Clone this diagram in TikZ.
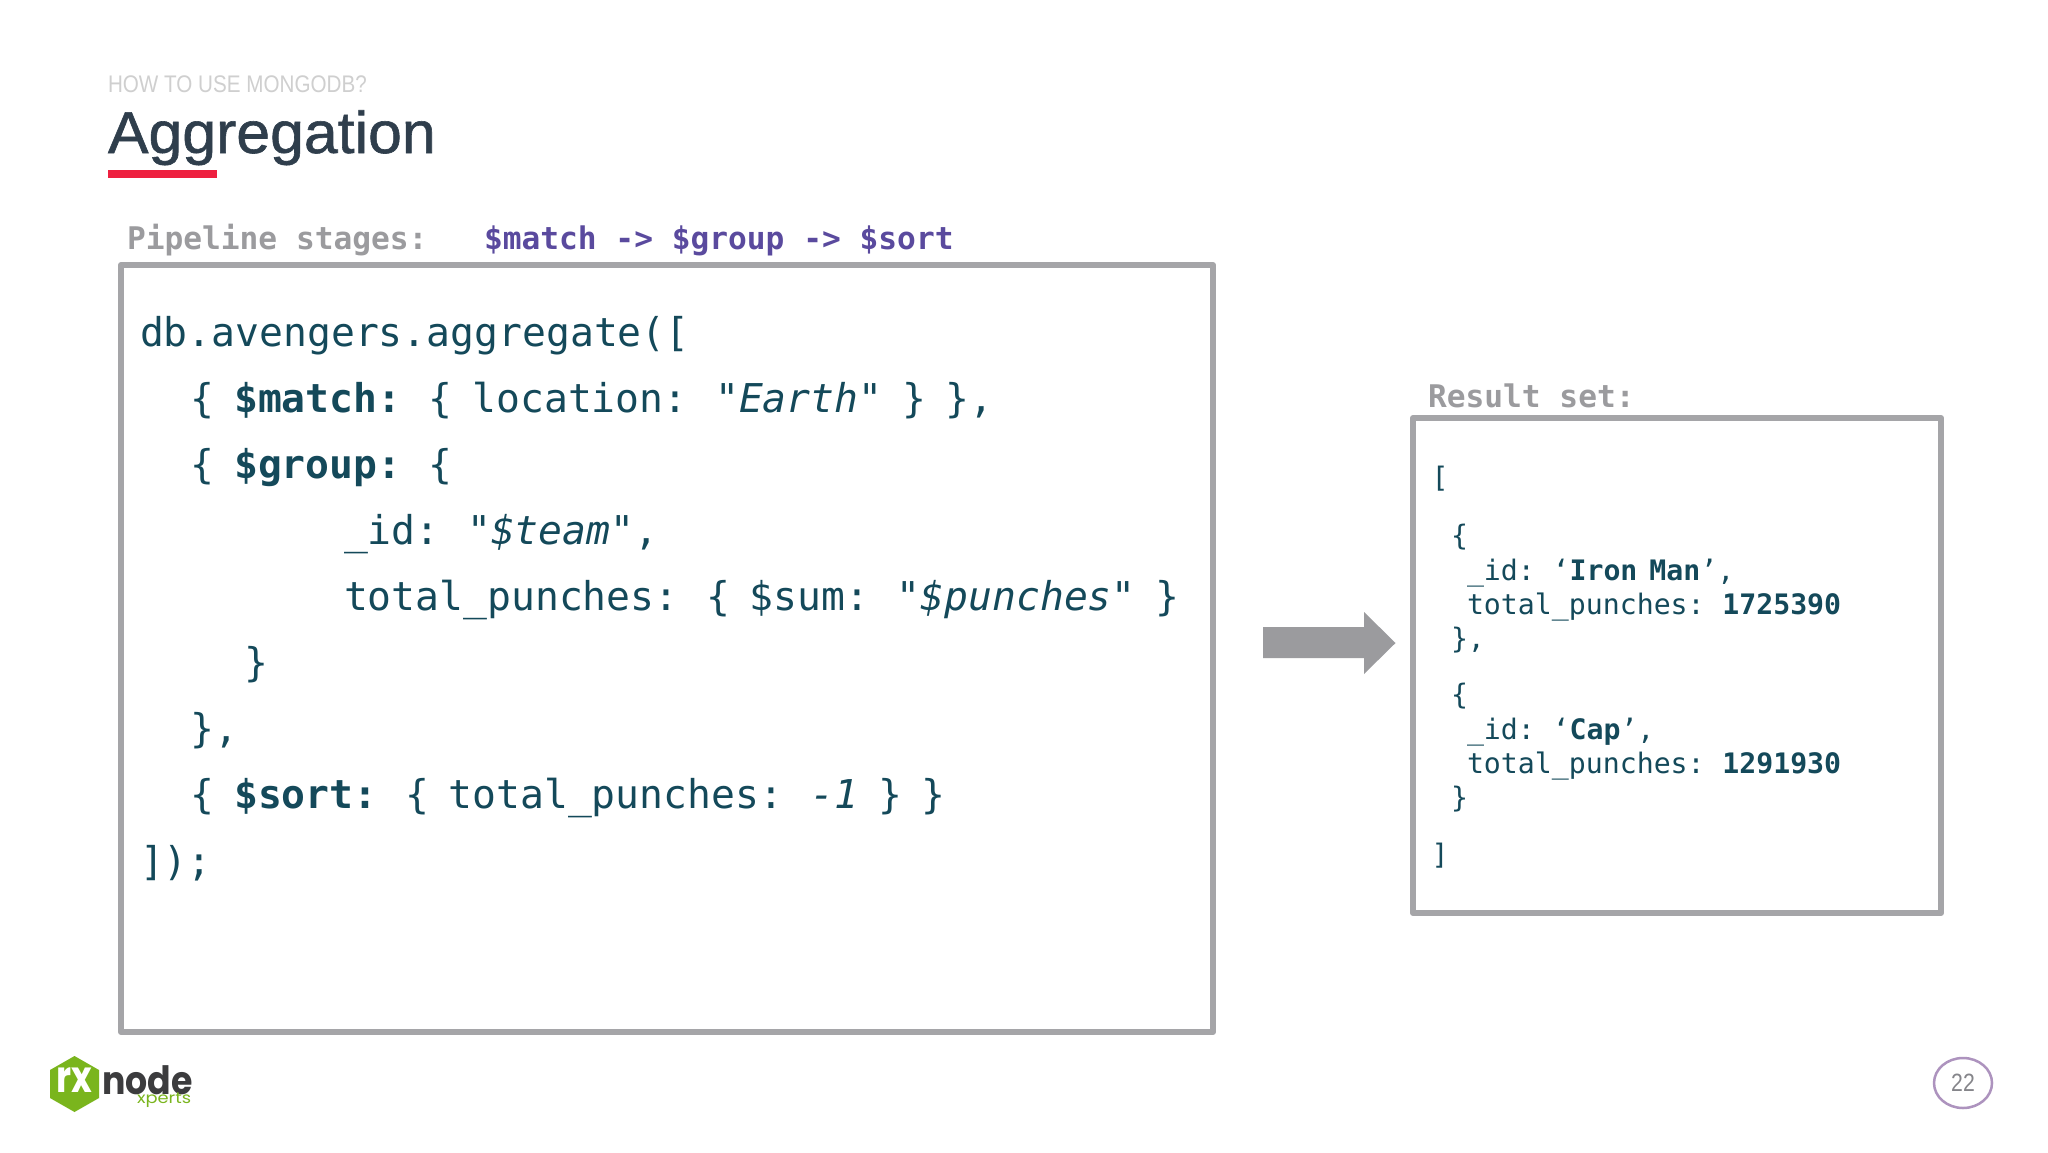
\documentclass[tikz,border=0pt]{standalone}
\usepackage{fontspec}
\setmainfont{Liberation Sans}
\newfontfamily\codefont{DejaVu Sans Mono}
\newfontfamily\logonodefont[FakeStretch=0.89]{Poppins}
\newfontfamily\logorxfont[FakeStretch=0.8]{Poppins}
\newfontfamily\logoxfont[FakeStretch=1.15]{Poppins}
\newfontfamily\titlefont[FakeBold=1,FakeStretch=1.03]{Liberation Sans}
\newfontfamily\kickerfont[FakeStretch=0.86]{Liberation Sans}
\newfontfamily\pagefont[FakeStretch=0.85]{Liberation Sans}
\definecolor{codeteal}{HTML}{14495A}
\definecolor{framegray}{HTML}{A5A5A8}
\definecolor{arrowgray}{HTML}{9B9B9E}
\definecolor{labelgray}{HTML}{9B9B9E}
\definecolor{stagepurple}{HTML}{5A4A9E}
\definecolor{titleink}{HTML}{2F3E4C}
\definecolor{barred}{HTML}{EE2040}
\definecolor{logogreen}{HTML}{7AB51D}
\definecolor{logoink}{HTML}{3C3C3E}
\definecolor{ringpurple}{HTML}{AD93BE}
\definecolor{kickergray}{HTML}{CFCFCF}
\definecolor{pagegray}{HTML}{85858A}
\newcommand{\bigspaces}{\spaceskip=19.6pt\relax}
\newcommand{\smallspaces}{\spaceskip=12pt\relax}
\tikzset{
  txt/.style={inner sep=0pt,outer sep=0pt,anchor=base west},
  bigcode/.style={txt,text=codeteal,font=\codefont\fontsize{39.7}{40}\selectfont,execute at begin node={\bigspaces}},
  smallcode/.style={txt,text=codeteal,font=\codefont\fontsize{28.2}{30}\selectfont,execute at begin node={\smallspaces}},
  caption/.style={txt,text=labelgray,font=\codefont\bfseries\fontsize{31.2}{32}\selectfont},
  stages/.style={txt,text=stagepurple,font=\codefont\bfseries\fontsize{31.2}{32}\selectfont},
  frame/.style={draw=framegray,line width=6pt,line join=round},
}
\newcommand{\bo}[1]{{\bfseries #1}}
\newcommand{\ob}[1]{{\itshape #1}}
\begin{document}
\begin{tikzpicture}[x=1pt,y=-1pt]
\path[use as bounding box,fill=white] (0,0) rectangle (2048,1152);
% heading
\node[txt,text=kickergray,font=\kickerfont\fontsize{24}{24}\selectfont] (kicker) at (108,92) {HOW TO USE MONGODB?};
\node[txt,text=titleink,font=\titlefont\fontsize{59}{60}\selectfont] (title) at (108,153) {Aggregation};
\fill[barred] (108,170) rectangle (216.6,178);
% captions
\node[caption] (pipelabel) at (127,249) {Pipeline stages:};
\node[stages] (stagelist) at (484,249) {\$match -> \$group -> \$sort};
\node[caption] (resultlabel) at (1428,407) {Result set:};
% frames
\draw[frame] (121,265) rectangle (1213,1032);
\draw[frame] (1413,418) rectangle (1941,913);
% big code
\node[bigcode] (c1) at (140,346) {db.avengers.aggregate([};
\node[bigcode] (c2) at (190.6,412) {\{ \bo{\$match:} \{ location: \ob{"Earth"} \} \},};
\node[bigcode] (c3) at (190.6,478) {\{ \bo{\$group:} \{};
\node[bigcode] (c4) at (344,544) {\_id: \ob{"\$team"},};
\node[bigcode] (c5) at (344,610.5) {total\_punches: \{ \$sum: \ob{"\$punches"} \}};
\node[bigcode] (c6) at (244,676.5) {\}};
\node[bigcode] (c7) at (190.6,742.5) {\},};
\node[bigcode] (c8) at (190.6,808.5) {\{ \bo{\$sort:} \{ total\_punches: \ob{-1} \} \}};
\node[bigcode] (c9) at (140,875) {]);};
% arrow
\fill[arrowgray] (1263,627) -- (1364,627) -- (1364,612) -- (1395.5,643) -- (1364,674) -- (1364,658) -- (1263,658) -- cycle;
% result code
\node[smallcode] (r1) at (1431.5,487) {[};
\node[smallcode] (r2) at (1451,545) {\{};
\node[smallcode] (r3) at (1467,580) {\_id: ‘\bo{Iron Man}’,};
\node[smallcode] (r4) at (1467,614) {total\_punches: \bo{1725390}};
\node[smallcode] (r5) at (1451,648) {\},};
\node[smallcode] (r6) at (1451,704) {\{};
\node[smallcode] (r7) at (1467,739) {\_id: ‘\bo{Cap}’,};
\node[smallcode] (r8) at (1467,773) {total\_punches: \bo{1291930}};
\node[smallcode] (r9) at (1451,807) {\}};
\node[smallcode] (r10) at (1431.5,864) {]};
% logo
\fill[logogreen] (74.5,1056) -- (99,1070) -- (99,1098) -- (74.5,1112) -- (50,1098) -- (50,1070) -- cycle;
\node[text=white,inner sep=0pt,font=\logorxfont\bfseries\fontsize{44}{44}\selectfont] (logorx) at (74,1080) {rx};
\node[txt,text=logoink,font=\logonodefont\bfseries\fontsize{39}{40}\selectfont] (logonode) at (102,1094) {node};
\node[txt,text=logogreen,font=\logoxfont\fontsize{15.5}{16}\selectfont] (logoxperts) at (137,1103) {xperts};
% page number
\draw[ringpurple,line width=2.5pt] (1963,1083) ellipse (29 and 25);
\node[text=pagegray,inner sep=0pt,font=\pagefont\fontsize{25}{26}\selectfont] (pagenum) at (1963,1083) {22};
\end{tikzpicture}
\end{document}
